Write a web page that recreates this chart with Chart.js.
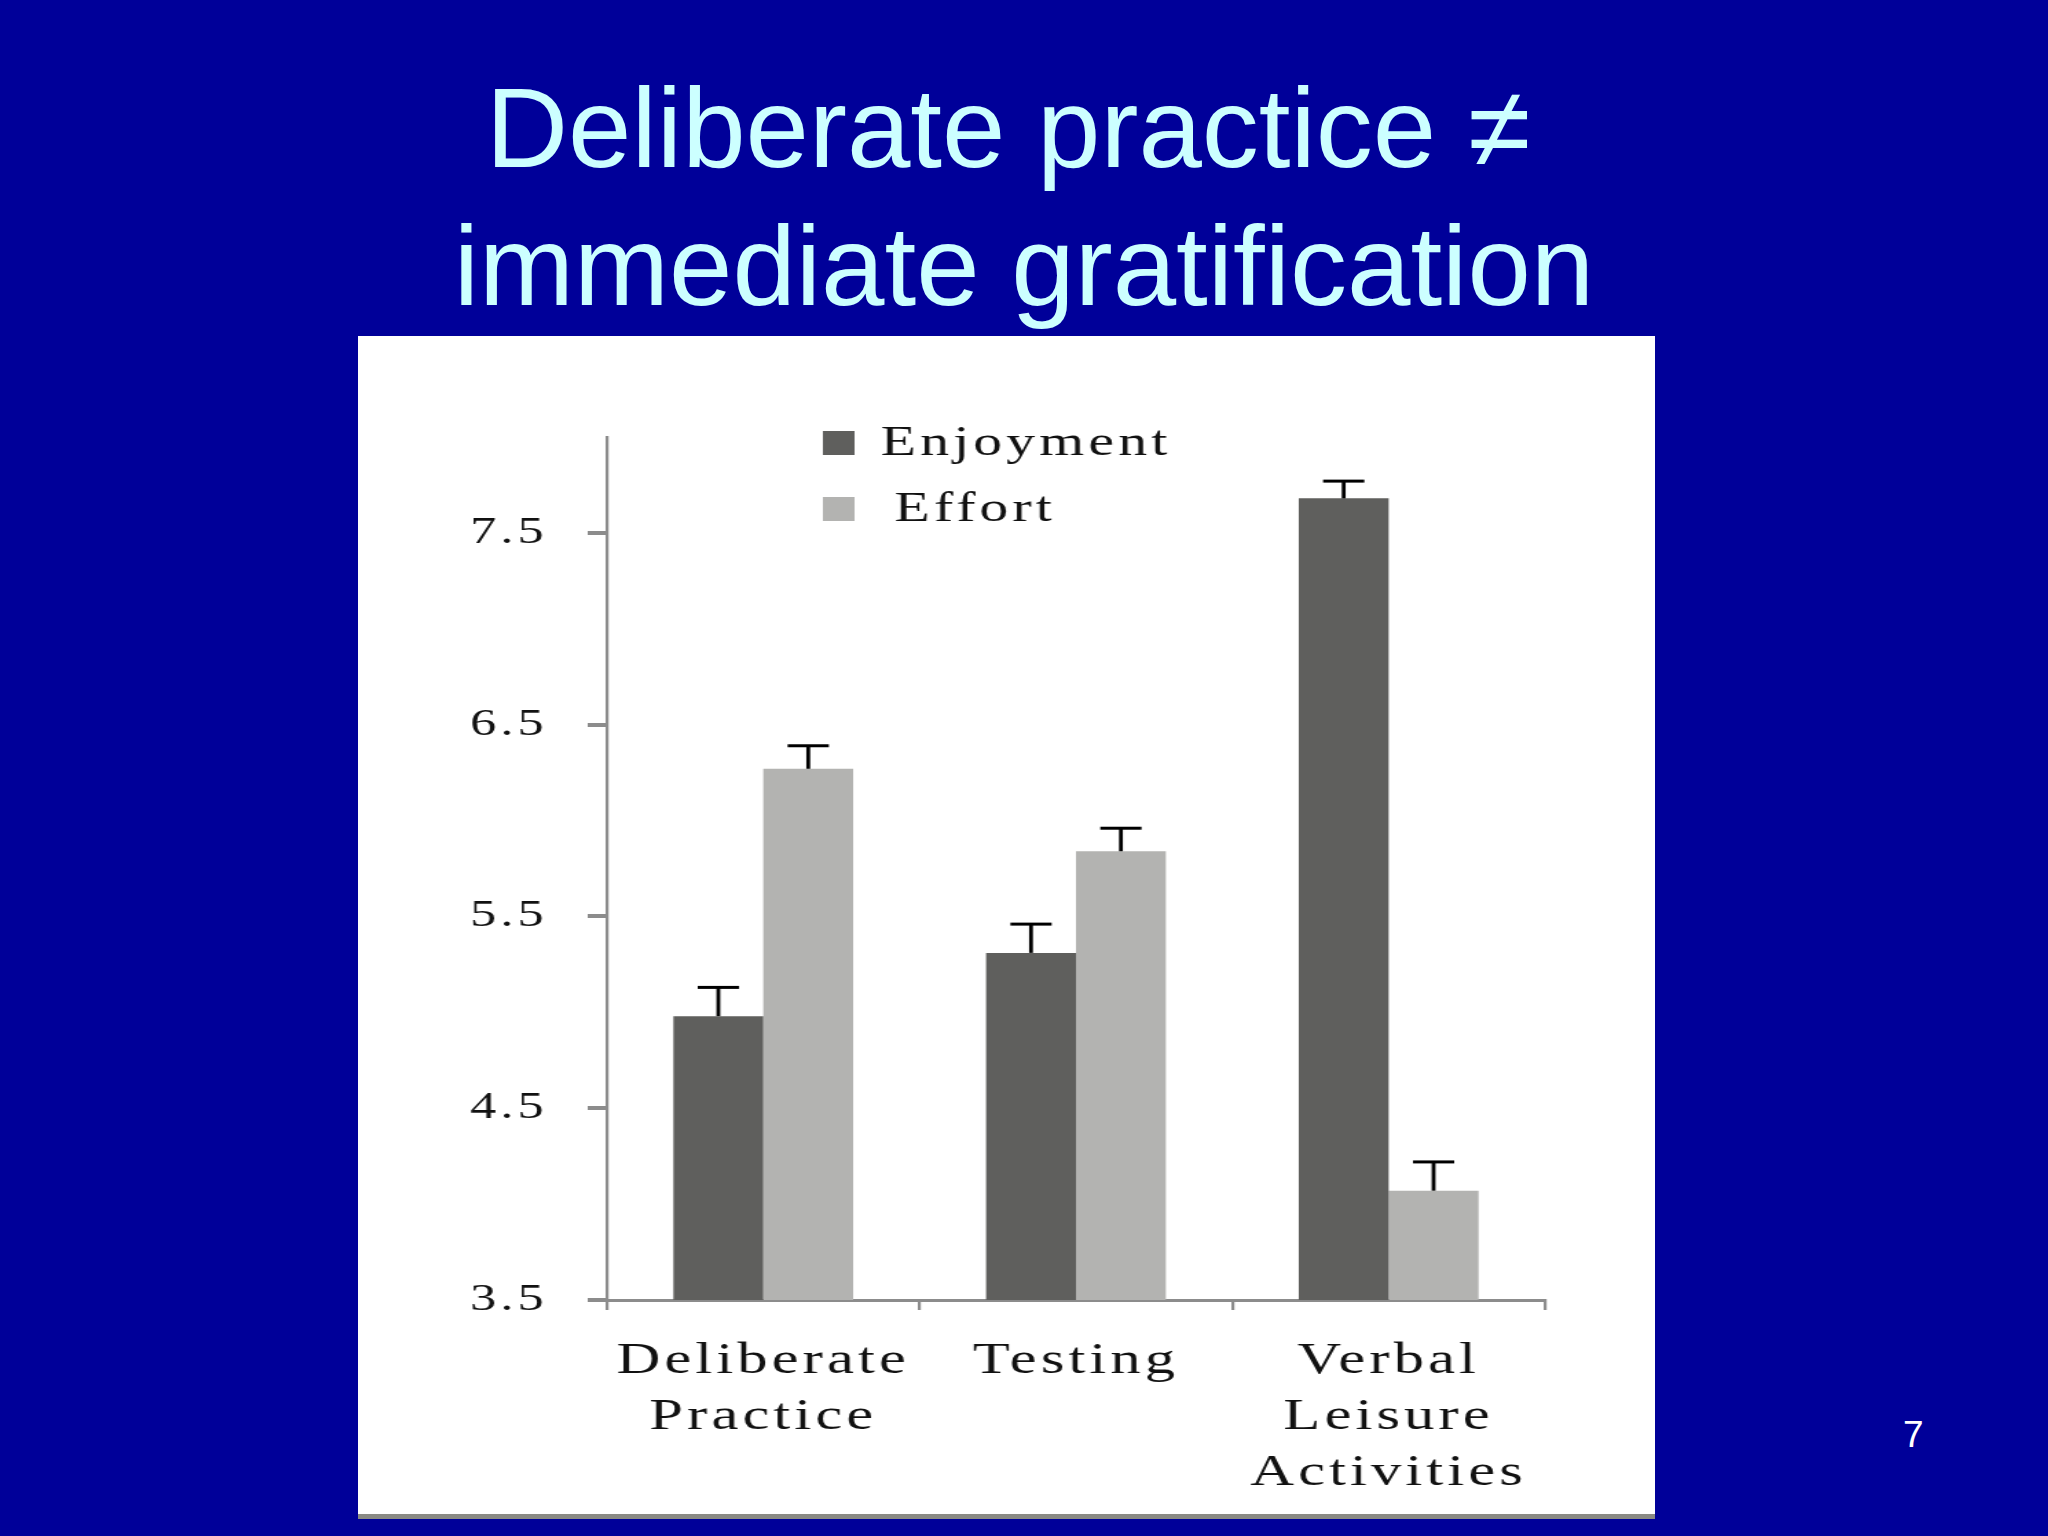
<!DOCTYPE html>
<html>
<head>
<meta charset="utf-8">
<script src="https://cdn.jsdelivr.net/npm/chart.js@4"></script>
<style>
  body { margin: 0; background: #000099; }
  #slide { position: relative; width: 2048px; height: 1536px; background: #000099; overflow: hidden; }
  #title {
    position: absolute; left: 0; top: 59px; width: 2048px;
    font-family: "Liberation Sans", Arial, sans-serif; font-size: 114px; line-height: 138px;
    color: #ccffff; text-align: center; white-space: pre;
  }
  #panel {
    position: absolute; left: 358px; top: 336px; width: 1297px; height: 1178px;
    background: #fff; border-bottom: 5px solid #8a8a84;
  }
  #page {
    position: absolute; left: 1903px; top: 1416px;
    font-family: "Liberation Sans", Arial, sans-serif; font-size: 37px; line-height: 37px; color: #fff;
  }
</style>
</head>
<body>
<div id="slide">
  <div id="title">Deliberate practice ≠ 
immediate gratification</div>
  <div id="panel"><canvas id="chart" width="943" height="1178" style="display:block;width:1297px;height:1178px"></canvas></div>
  <div id="page">7</div>
</div>
<script>
const categories = [['Deliberate', 'Practice'], ['Testing'], ['Verbal', 'Leisure', 'Activities']];
const seriesNames = ['Enjoyment', 'Effort'];
const enjoyment = [4.98, 5.31, 7.68];
const effort = [6.27, 5.84, 4.07];
const enjoymentErr = [0.15, 0.15, 0.09];
const effortErr = [0.12, 0.12, 0.15];
const yTicks = [3.5, 4.5, 5.5, 6.5, 7.5];

const serif = "'Liberation Serif', 'Times New Roman', serif";
const axisGray = '#8c8c8c';

// the original figure is stretched sideways; the canvas is drawn narrow and widened by css
const letterSpacing = {
  id: 'letterSpacing',
  beforeDraw(chart) { chart.ctx.letterSpacing = '3px'; }
};

// upper error bars only, as in the figure
const errorBars = {
  id: 'errorBars',
  afterDatasetsDraw(chart) {
    const ctx = chart.ctx;
    const y = chart.scales.y;
    ctx.save();
    ctx.strokeStyle = '#000';
    chart.data.datasets.forEach((ds, i) => {
      chart.getDatasetMeta(i).data.forEach((bar, j) => {
        const top = y.getPixelForValue(ds.data[j] + ds.errors[j]);
        ctx.lineWidth = 2.8;
        ctx.beginPath();
        ctx.moveTo(bar.x, bar.y);
        ctx.lineTo(bar.x, top);
        ctx.stroke();
        ctx.lineWidth = 3;
        ctx.beginPath();
        ctx.moveTo(bar.x - 15, top);
        ctx.lineTo(bar.x + 15, top);
        ctx.stroke();
      });
    });
    ctx.restore();
  }
};

// legend sits inside the plot, stacked
const boxLegend = {
  id: 'boxLegend',
  afterDraw(chart) {
    const ctx = chart.ctx;
    ctx.save();
    ctx.font = '42px ' + serif;
    ctx.textBaseline = 'middle';
    ctx.textAlign = 'left';
    chart.data.datasets.forEach((ds, i) => {
      const cy = 107 + i * 66;
      ctx.fillStyle = ds.backgroundColor;
      ctx.fillRect(338, cy - 12, 23, 24);
      ctx.fillStyle = '#111';
      ctx.fillText(ds.label, 380 + i * 10, cy + 1);
    });
    ctx.restore();
  }
};

new Chart(document.getElementById('chart'), {
  type: 'bar',
  data: {
    labels: categories,
    datasets: [
      { label: seriesNames[0], data: enjoyment, errors: enjoymentErr, backgroundColor: '#5f5f5d' },
      { label: seriesNames[1], data: effort, errors: effortErr, backgroundColor: '#b3b3b1' }
    ]
  },
  options: {
    responsive: false,
    animation: false,
    layout: { padding: { left: 0, right: 80, top: 101, bottom: 0 } },
    datasets: { bar: { categoryPercentage: 0.575, barPercentage: 1, borderWidth: 0 } },
    plugins: { legend: { display: false }, tooltip: { enabled: false } },
    scales: {
      x: {
        afterFit: s => { s.height = 214; },
        border: { display: true, color: axisGray, width: 3 },
        grid: { drawOnChartArea: false, drawTicks: true, tickLength: 10, color: axisGray, lineWidth: 2.2 },
        ticks: { color: '#111', padding: 23, maxRotation: 0, autoSkip: false,
                 font: { family: serif, size: 44, lineHeight: 1.28 } }
      },
      y: {
        min: 3.5,
        max: 8,
        afterFit: s => { s.width = 181; },
        afterBuildTicks: s => { s.ticks = yTicks.map(v => ({ value: v })); },
        border: { display: true, color: axisGray, width: 2.2 },
        grid: { drawOnChartArea: false, drawTicks: true, tickLength: 14, color: axisGray, lineWidth: 4 },
        ticks: { color: '#111', padding: 29, callback: v => v.toFixed(1),
                 font: { family: serif, size: 38 } }
      }
    }
  },
  plugins: [letterSpacing, errorBars, boxLegend]
});
</script>
</body>
</html>
